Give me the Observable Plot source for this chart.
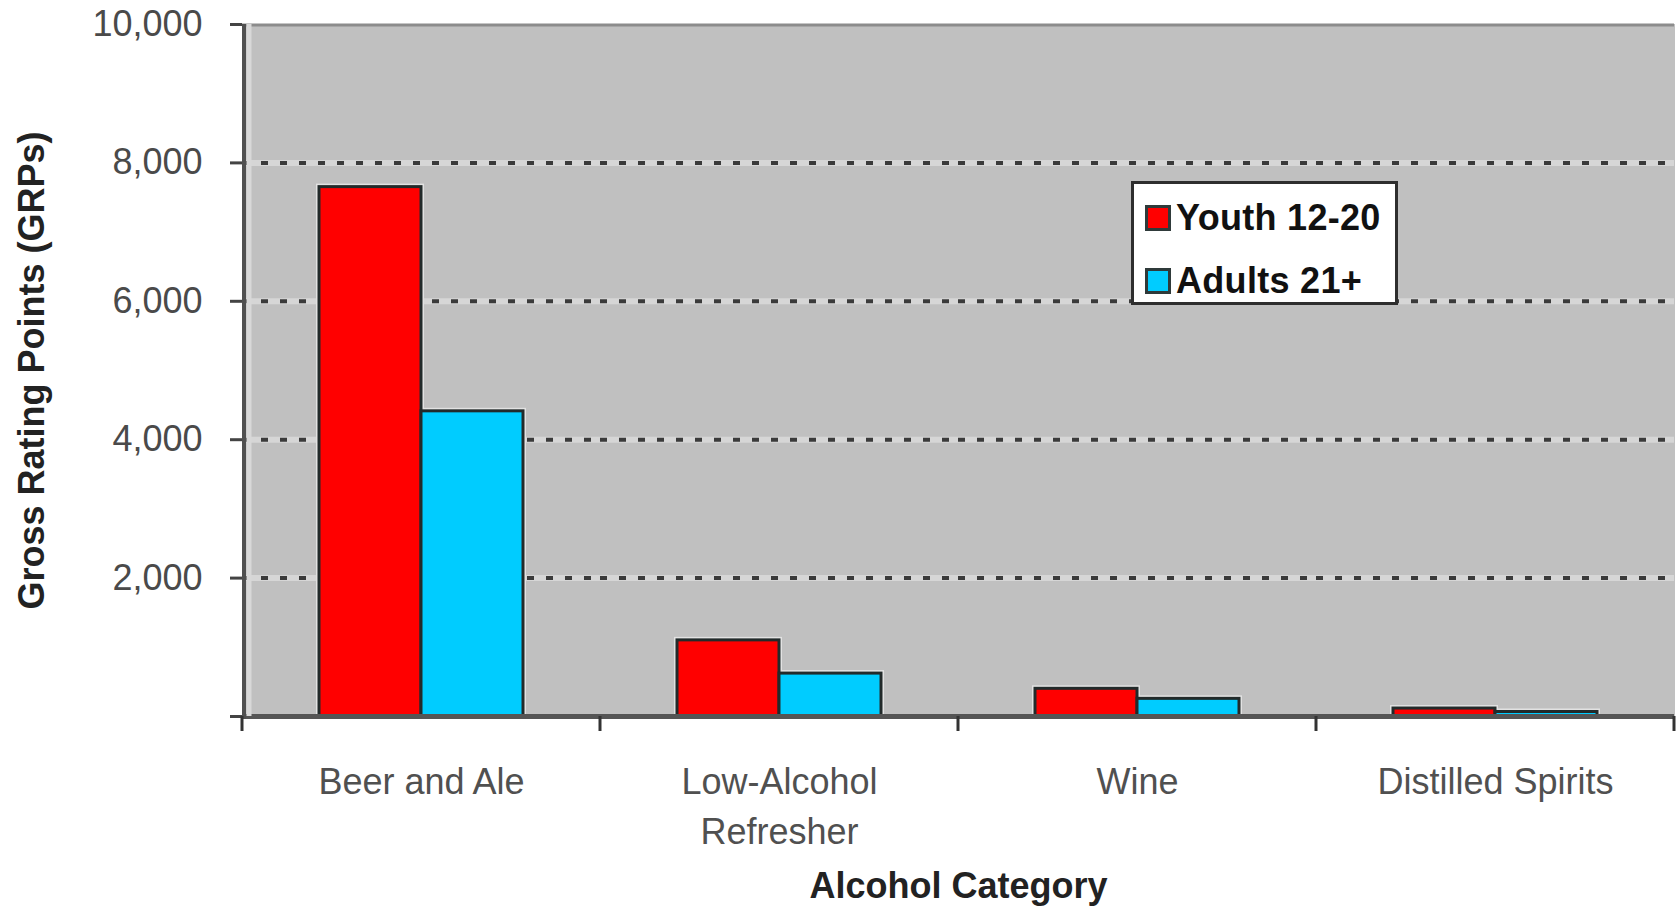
<!DOCTYPE html>
<html>
<head>
<meta charset="utf-8">
<script src="https://cdn.jsdelivr.net/npm/d3@7"></script>
<script src="https://cdn.jsdelivr.net/npm/@observablehq/plot@0.6"></script>
<style>
  html, body { margin: 0; padding: 0; background: #ffffff; }
  #wrap { position: relative; width: 1676px; height: 908px; overflow: hidden; }
  #legend {
    position: absolute; left: 1131px; top: 181px; width: 261px; height: 118px;
    border: 3px solid #2e2e2e; background: #ffffff;
    font-family: "Liberation Sans", Arial, sans-serif; font-weight: bold; font-size: 36px; color: #111;
    letter-spacing: 0.3px;
  }
  #legend .item { position: absolute; left: 11px; display: flex; align-items: center; white-space: nowrap; }
  #legend .sw { width: 20px; height: 20px; border: 3px solid #2f3a3a; margin-right: 5px; }
</style>
</head>
<body>
<div id="wrap"></div>
<script>
// ---- data ----
const categories = ["Beer and Ale", "Low-Alcohol Refresher", "Wine", "Distilled Spirits"];
const categoryLabels = ["Beer and Ale", "Low-Alcohol\nRefresher", "Wine", "Distilled Spirits"];
const seriesNames = ["Youth 12-20", "Adults 21+"];
const seriesColors = ["#ff0000", "#00ccff"];
const youthValues = [7650, 1100, 400, 115];
const adultValues = [4410, 620, 255, 65];
const yTicks = [0, 2000, 4000, 6000, 8000, 10000];
const gridValues = [2000, 4000, 6000, 8000];
const yTitle = "Gross Rating Points (GRPs)";
const xTitle = "Alcohol Category";

// ---- table ----
const table = [];
categories.forEach((c, i) => {
  table.push({category: c, series: seriesNames[0], value: youthValues[i]});
  table.push({category: c, series: seriesNames[1], value: adultValues[i]});
});
const labelRows = categories.map((c, i) => ({category: c, label: categoryLabels[i]}));

const FONT = "Liberation Sans, Arial, sans-serif";

const plot = Plot.plot({
  width: 1676,
  height: 908,
  marginLeft: 242,
  marginRight: 2,
  marginTop: 24,
  marginBottom: 192,
  style: {fontFamily: FONT, background: "transparent", overflow: "visible"},
  fx: {domain: categories, padding: 0},
  x: {domain: seriesNames, paddingInner: 0, paddingOuter: 0.738, axis: null},
  y: {domain: [0, 10000]},
  color: {domain: seriesNames, range: seriesColors},
  marks: [
    Plot.frame({fill: "#c0c0c0", stroke: null, shapeRendering: "crispEdges", inset: -0.5}),
    Plot.ruleY(gridValues, {stroke: "#d6d6d6", strokeWidth: 6}),
    Plot.ruleY(gridValues, {stroke: "#3a3a3a", strokeWidth: 4, strokeDasharray: "7,12"}),
    Plot.barY(table, {fx: "category", x: "series", y: "value", fill: "series", stroke: "#e2e2e2", strokeWidth: 6}),
    Plot.barY(table, {fx: "category", x: "series", y: "value", fill: "series", stroke: "#222a2a", strokeWidth: 3}),
    Plot.ruleY([0], {stroke: "#555555", strokeWidth: 5}),
    Plot.text(labelRows, {
      fx: "category", text: "label", frameAnchor: "bottom", lineAnchor: "top",
      dy: 42, lineHeight: 1.39, fontSize: 36, fill: "#505050"
    }),
    Plot.axisY({
      ticks: yTicks,
      tickFormat: d => d === 0 ? "" : d3.format(",")(d),
      tickSize: 12, tickPadding: 28, fontSize: 36, fill: "#4a4a4a", stroke: "#444", strokeWidth: 3,
      label: null
    }),
    Plot.axisY({
      ticks: [], label: yTitle, labelAnchor: "center", labelOffset: 224, labelArrow: "none",
      fontSize: 36, fontWeight: "bold", fill: "#222"
    }),
    Plot.axisFx({
      anchor: "bottom",
      ticks: [], label: xTitle, labelAnchor: "center", labelOffset: 181, labelArrow: "none",
      fontSize: 36, fontWeight: "bold", fill: "#222"
    })
  ]
});

document.getElementById("wrap").appendChild(plot);

// axis lines and category boundary ticks, placed with Plot's own scales
const svg = d3.select(plot.tagName.toLowerCase() === "svg" ? plot : plot.querySelector("svg"));
const ys = plot.scale("y");
const fxs = plot.scale("fx");
const y0 = ys.apply(0), yTop = ys.apply(10000);
const xLeft = fxs.apply(categories[0]);
const bw = fxs.bandwidth;
const xRight = fxs.apply(categories[categories.length - 1]) + bw;
const deco = svg.append("g");
deco.append("line").attr("x1", xLeft).attr("x2", xRight).attr("y1", yTop + 1).attr("y2", yTop + 1)
  .attr("stroke", "#8c8c8c").attr("stroke-width", 3);
deco.append("line").attr("x1", xLeft + 7).attr("x2", xLeft + 7).attr("y1", yTop).attr("y2", y0)
  .attr("stroke", "#d8d8d8").attr("stroke-width", 5);
deco.append("line").attr("x1", xLeft + 2).attr("x2", xLeft + 2).attr("y1", yTop).attr("y2", y0 + 3)
  .attr("stroke", "#505050").attr("stroke-width", 4);
const bounds = categories.map(c => fxs.apply(c)).concat([xRight]);
bounds.forEach(bx => {
  deco.append("line").attr("x1", bx).attr("x2", bx).attr("y1", y0).attr("y2", y0 + 15)
    .attr("stroke", "#333").attr("stroke-width", 3);
});

// legend (HTML, colours from the series arrays)
const legend = document.createElement("div");
legend.id = "legend";
const tops = [13, 76];
seriesNames.forEach((s, i) => {
  const item = document.createElement("div");
  item.className = "item";
  item.style.top = tops[i] + "px";
  const sw = document.createElement("div");
  sw.className = "sw";
  sw.style.background = seriesColors[i];
  const t = document.createElement("span");
  t.textContent = s;
  item.appendChild(sw);
  item.appendChild(t);
  legend.appendChild(item);
});
document.getElementById("wrap").appendChild(legend);
</script>
</body>
</html>
